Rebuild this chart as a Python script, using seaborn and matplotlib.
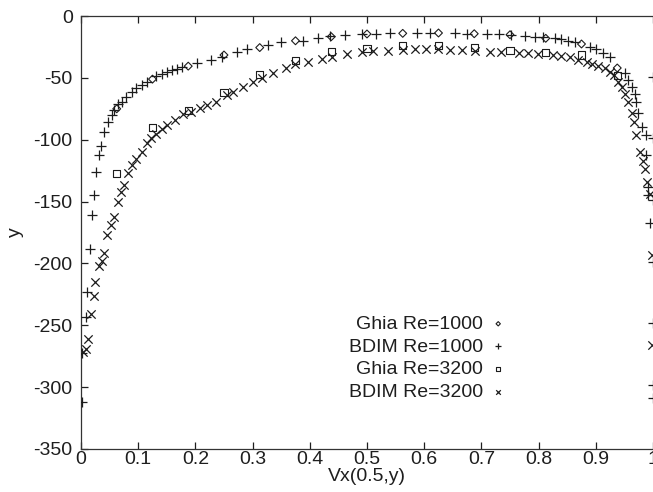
import matplotlib
matplotlib.use("Agg")
import matplotlib.pyplot as plt
import seaborn as sns
import pandas as pd

# Ghia et al. reference values (regular spacing in Vx)
ghia_x = [0.0625, 0.125, 0.1875, 0.25, 0.3125, 0.375, 0.4375, 0.5,
          0.5625, 0.625, 0.6875, 0.75, 0.8125, 0.875, 0.9375]
ghia1000_y = [-75.0, -51.0, -40.5, -31.5, -25.5, -20.0, -16.7, -14.5,
              -14.0, -13.7, -14.3, -15.1, -18.0, -22.6, -42.0]
ghia3200_y = [-127.5, -90.0, -76.0, -61.5, -47.5, -36.0, -29.0, -26.0,
              -23.5, -23.7, -25.3, -27.5, -29.4, -31.5, -48.0]

# BDIM profile, Re=1000
bdim1000_x = [0.001, 0.001, 0.008, 0.011, 0.015, 0.019, 0.023, 0.027, 0.031, 0.035,
              0.040, 0.047, 0.054, 0.058, 0.065, 0.071, 0.079, 0.089, 0.097, 0.106,
              0.115, 0.132, 0.141, 0.150, 0.159, 0.167, 0.176, 0.202, 0.227, 0.246,
              0.272, 0.291, 0.327, 0.350, 0.389, 0.415, 0.435, 0.462, 0.491, 0.515,
              0.540, 0.587, 0.610, 0.654, 0.674, 0.709, 0.730, 0.752, 0.776, 0.794,
              0.808, 0.829, 0.840, 0.852, 0.864, 0.890, 0.901, 0.913, 0.925, 0.951,
              0.957, 0.963, 0.969, 0.970, 0.974, 0.980, 0.987, 0.988, 0.992, 0.992,
              0.994, 1.0, 1.0, 1.0, 1.0, 1.0, 1.0, 1.0]
bdim1000_y = [-311.7, -272.7, -243.6, -222.8, -188.0, -160.8, -144.7, -126.4, -112.4, -104.8,
              -94.0, -85.4, -80.0, -76.0, -71.5, -69.3, -65.2, -61.2, -58.5, -55.8,
              -53.1, -48.5, -46.9, -45.3, -43.6, -42.6, -41.5, -38.3, -35.6, -32.9,
              -29.4, -26.9, -23.4, -21.3, -19.9, -18.0, -16.2, -15.4, -14.8, -14.3,
              -14.0, -14.0, -14.0, -14.0, -14.3, -14.5, -14.5, -15.0, -16.2, -16.7,
              -17.2, -18.0, -18.6, -19.9, -21.3, -24.8, -26.9, -29.6, -33.4, -45.8,
              -51.7, -57.6, -63.0, -69.3, -78.1, -89.5, -96.2, -112.4, -138.5, -144.7,
              -167.6, -49.0, -98.9, -149.0, -198.6, -248.4, -298.3, -309.0]

# BDIM profile, Re=3200
bdim3200_x = [0.003, 0.009, 0.013, 0.017, 0.022, 0.024, 0.031, 0.036, 0.040, 0.046,
              0.052, 0.057, 0.064, 0.070, 0.075, 0.083, 0.090, 0.097, 0.106, 0.115,
              0.122, 0.132, 0.141, 0.150, 0.164, 0.178, 0.193, 0.208, 0.220, 0.236,
              0.255, 0.266, 0.284, 0.301, 0.316, 0.336, 0.358, 0.374, 0.397, 0.421,
              0.438, 0.465, 0.491, 0.511, 0.537, 0.563, 0.584, 0.604, 0.625, 0.645,
              0.666, 0.689, 0.715, 0.735, 0.765, 0.782, 0.799, 0.826, 0.840, 0.855,
              0.869, 0.884, 0.893, 0.904, 0.916, 0.925, 0.931, 0.939, 0.945, 0.951,
              0.957, 0.963, 0.967, 0.971, 0.978, 0.982, 0.986, 0.990, 0.994, 0.999, 0.999]
bdim3200_y = [-271.3, -269.4, -261.3, -240.9, -226.0, -215.3, -202.0, -197.8, -191.8, -177.0,
              -168.9, -162.7, -150.1, -142.0, -136.6, -127.2, -120.4, -115.9, -109.7, -102.9,
              -98.9, -95.6, -91.6, -88.1, -84.1, -79.5, -77.3, -74.6, -71.9, -69.3,
              -63.9, -61.2, -57.6, -53.1, -50.4, -46.3, -42.3, -39.1, -36.9, -34.8,
              -32.9, -30.7, -29.3, -28.3, -28.0, -27.5, -26.9, -26.9, -26.9, -27.5,
              -27.5, -28.0, -28.8, -29.3, -30.2, -30.2, -30.7, -31.5, -32.3, -33.4,
              -35.6, -36.9, -38.8, -40.4, -42.3, -45.0, -47.7, -53.1, -57.6, -63.0,
              -69.3, -78.7, -85.4, -96.2, -109.7, -116.9, -123.9, -133.9, -143.9, -193.0, -266.0]

labels = ["Ghia Re=1000", "BDIM Re=1000", "Ghia Re=3200", "BDIM Re=3200"]
x_ticks = [0, 0.1, 0.2, 0.3, 0.4, 0.5, 0.6, 0.7, 0.8, 0.9, 1]
x_tick_labels = ["0", "0.1", "0.2", "0.3", "0.4", "0.5", "0.6", "0.7", "0.8", "0.9", "1"]
y_ticks = [-350, -300, -250, -200, -150, -100, -50, 0]

sns.set_style("ticks")
plt.rcParams["font.family"] = ["Liberation Sans", "DejaVu Sans"]
plt.rcParams["axes.unicode_minus"] = False

ink = "#1c1c1c"
text_col = "#1e1e1e"
fs = 14
fig = plt.figure(figsize=(6.53, 4.92), dpi=100)
ax = fig.add_axes([0.124, 0.0874, 0.876, 0.88])

series = [
    (ghia_x, ghia1000_y, "D", 16, True),
    (bdim1000_x, bdim1000_y, "+", 48, False),
    (ghia_x, ghia3200_y, "s", 26, True),
    (bdim3200_x, bdim3200_y, "x", 36, False),
]
for (xs, ys, mk, size, hollow), lab in zip(series, labels):
    df = pd.DataFrame({"vx": xs, "y": ys})
    if hollow:
        sns.scatterplot(data=df, x="vx", y="y", marker=mk, s=size, ax=ax,
                        facecolor="none", edgecolor=ink, linewidth=0.8,
                        label=lab, clip_on=False, zorder=3)
    else:
        sns.scatterplot(data=df, x="vx", y="y", marker=mk, s=size, ax=ax,
                        color=ink, linewidth=0.9, label=lab, zorder=3)

ax.set_xlim(0, 1)
ax.set_ylim(-350, 0)
ax.set_xticks(x_ticks)
ax.set_xticklabels(x_tick_labels)
ax.set_yticks(y_ticks)
ax.tick_params(axis="both", direction="in", length=5, width=0.9, labelsize=fs,
               colors=text_col)
ax.tick_params(axis="x", top=True, pad=1.5)
ax.tick_params(axis="y", pad=6)
for side in ["left", "bottom", "top"]:
    ax.spines[side].set_color("#333333")
    ax.spines[side].set_linewidth(0.9)
ax.spines["right"].set_visible(False)

ax.set_xlabel("Vx(0.5,y)", fontsize=fs, labelpad=0, color=text_col)
ax.set_ylabel("y", fontsize=fs, labelpad=7, color=text_col)

leg = ax.legend(loc="center right", bbox_to_anchor=(0.743, 0.21), frameon=False,
                markerfirst=False, fontsize=fs, markerscale=0.55, handlelength=0.8,
                handletextpad=0.4, labelspacing=0.26, borderaxespad=0, borderpad=0)
for t in leg.get_texts():
    t.set_ha("right")
    t.set_color(text_col)
# right-align the label column
leg._legend_box.align = "right"
for vp in leg._legend_handle_box.get_children():
    vp.align = "right"

fig.savefig("out.png", dpi=100)
